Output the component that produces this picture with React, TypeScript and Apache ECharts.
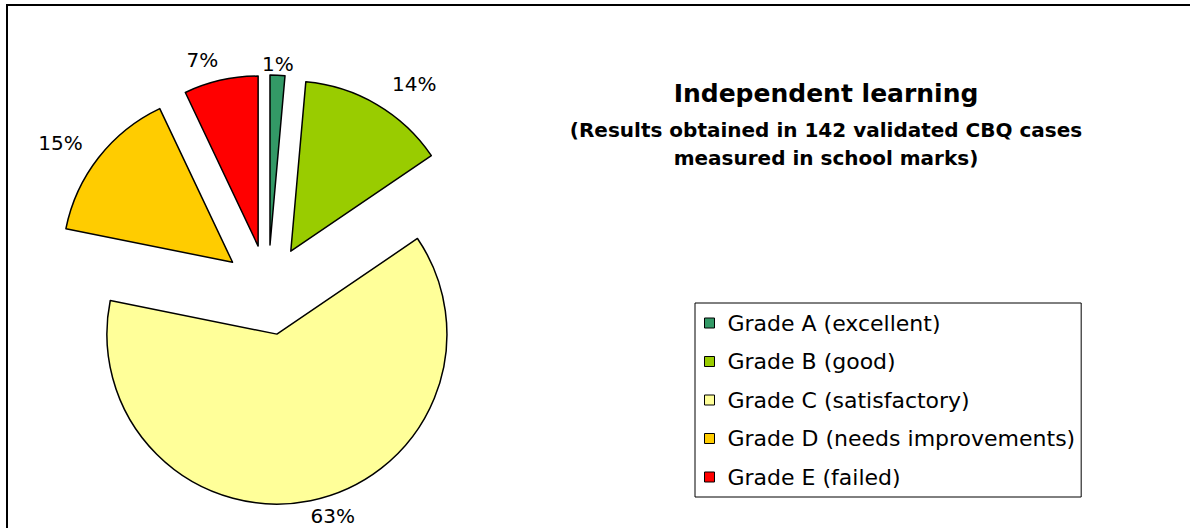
import React, { useEffect, useRef } from "react";
import * as echarts from "echarts";

const categories = [
  "Grade A (excellent)",
  "Grade B (good)",
  "Grade C (satisfactory)",
  "Grade D (needs improvements)",
  "Grade E (failed)",
];
const caseCounts = [2, 20, 89, 21, 10];
const sliceColors = ["#339966", "#99CC00", "#FFFF99", "#FFCC00", "#FF0000"];
// per-slice label placement tweaks (style only)
const labelLineLength = [11, 24, 15.5, 24, 21];
const labelLineLength2 = [-21, -2, -8, -8, -7];
const titleText = "Independent learning";
const subtitleText = "(Results obtained in 142 validated CBQ cases\nmeasured in school marks)";

const FONT = "DejaVu Sans";

export default function App() {
  const ref = useRef<HTMLDivElement>(null);
  useEffect(() => {
    if (!ref.current) return;
    const chart = echarts.init(ref.current, null, { renderer: "svg" });
    const data = categories.map((name, i) => ({
      name,
      value: caseCounts[i],
      selected: true,
      itemStyle: { color: sliceColors[i] },
      labelLine: { show: false, length: labelLineLength[i], length2: labelLineLength2[i] },
    }));
    chart.setOption({
      animation: false,
      backgroundColor: "#ffffff",
      title: {
        text: titleText,
        subtext: subtitleText,
        left: 821,
        top: 76,
        textAlign: "center",
        itemGap: 10,
        textStyle: { fontFamily: FONT, fontSize: 25, fontWeight: "bold", color: "#000" },
        subtextStyle: {
          fontFamily: FONT,
          fontSize: 20,
          fontWeight: "bold",
          color: "#000",
          lineHeight: 28,
          align: "center",
        },
      },
      legend: {
        orient: "vertical",
        left: 695,
        top: 303,
        data: categories,
        icon: "rect",
        itemWidth: 10,
        itemHeight: 10,
        itemGap: 16.5,
        padding: [9, 6, 9, 9],
        borderColor: "#000",
        borderWidth: 1,
        backgroundColor: "#fff",
        selectedMode: false,
        itemStyle: { borderColor: "#000", borderWidth: 1 },
        textStyle: { fontFamily: FONT, fontSize: 22, color: "#000", padding: [0, 0, 0, 8], lineHeight: 22 },
      },
      graphic: [
        {
          type: "rect",
          z: -10,
          shape: { x: 7, y: 5, width: 1300, height: 700 },
          style: { fill: "none", stroke: "#000", lineWidth: 2 },
        },
      ],
      series: [
        {
          type: "pie",
          center: [268, 290],
          radius: 170,
          startAngle: 90,
          clockwise: true,
          selectedMode: "multiple",
          selectedOffset: 45,
          avoidLabelOverlap: false,
          emphasis: { disabled: true },
          itemStyle: { borderColor: "#000", borderWidth: 1.5 },
          label: {
            show: true,
            position: "outside",
            fontFamily: FONT,
            fontSize: 20,
            color: "#000",
            formatter: (p: any) => Math.round(p.percent) + "%",
          },
          labelLine: { show: false },
          data,
        },
      ],
    });
    return () => chart.dispose();
  }, []);
  return (
    <div
      ref={ref}
      style={{ position: "fixed", left: 0, top: 0, width: 1190, height: 528 }}
    />
  );
}
